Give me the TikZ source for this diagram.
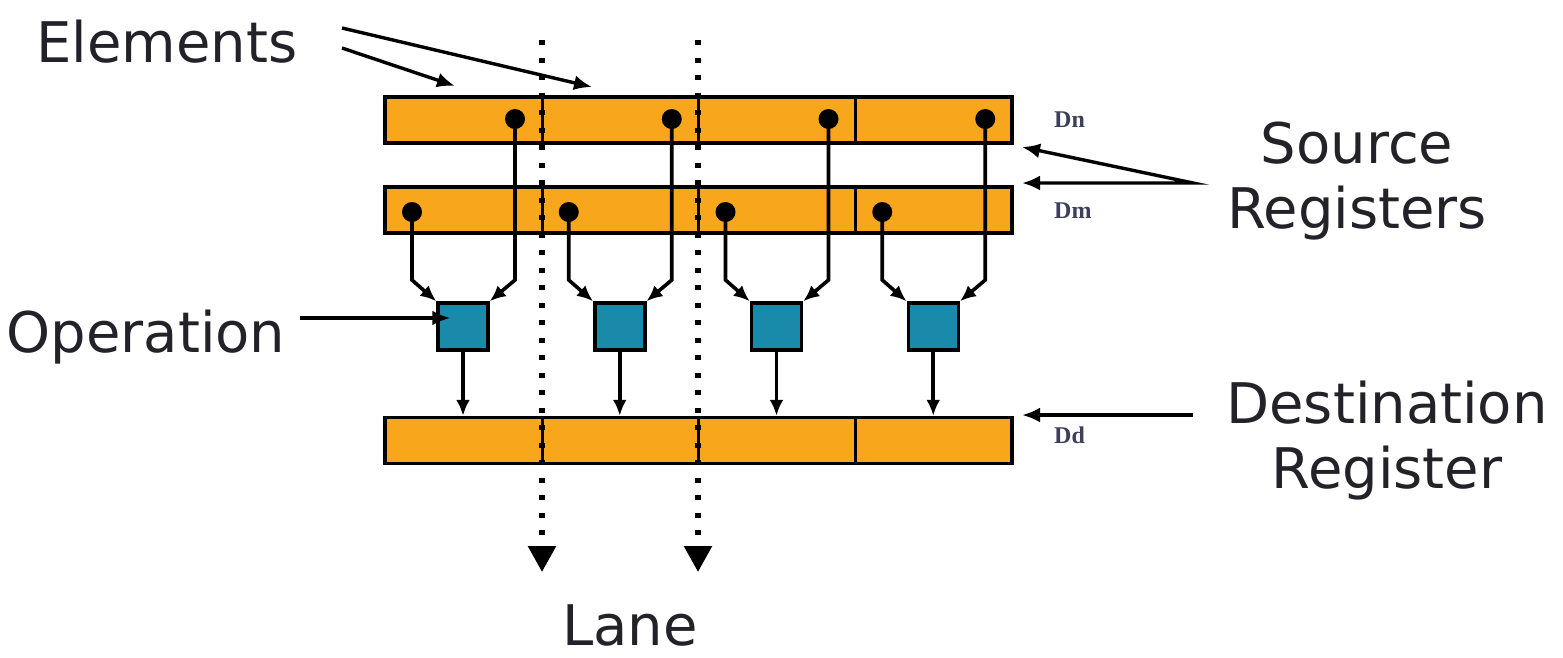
\documentclass[tikz,border=0pt]{standalone}
\usepackage{fontspec}
\setmainfont{DejaVu Sans}
\newfontfamily\regfont{Liberation Serif}
\usetikzlibrary{arrows.meta}
\definecolor{regorange}{RGB}{248,166,28}
\definecolor{opteal}{RGB}{26,138,170}
\definecolor{txt}{RGB}{34,34,40}
\definecolor{regtxt}{RGB}{60,64,90}
\begin{document}
\begin{tikzpicture}[x=1pt,y=-1pt,
  reg/.style={draw=black, fill=regorange, line width=3.5pt, minimum width=627pt, minimum height=46pt, inner sep=0pt},
  op/.style={draw=black, fill=opteal, line width=3.5pt, minimum width=50pt, minimum height=47pt, inner sep=0pt},
  dot/.style={circle, fill=black, minimum size=20pt, inner sep=0pt},
  conn/.style={line width=3.6pt, -{Latex[length=16pt,width=14pt]}},
  divider/.style={line width=3pt},
  lbl/.style={font=\fontsize{56}{65}\selectfont, text=txt, inner sep=0pt, align=center, anchor=base},
  rlbl/.style={font=\regfont\bfseries\fontsize{24}{27}\selectfont, text=regtxt, inner sep=0pt, anchor=base west},
  lane/.style={line width=5.5pt, dash pattern=on 5pt off 12.5pt, -{Triangle[length=26pt,width=27pt]}},
  pointer/.style={line width=3.4pt, -{Latex[length=18pt,width=15pt]}},
  pointertwo/.style={line width=3.4pt, {Latex[length=18pt,width=15pt]}-{Latex[length=18pt,width=15pt]}}
]
\useasboundingbox (0,0) rectangle (1563,657);

% registers
\node[reg] (Dn) at (698.5,120) {};
\node[reg] (Dm) at (698.5,210) {};
\node[reg] (Dd) at (698.5,440.5) {};
\foreach \r in {Dn,Dm,Dd}{
  \foreach \xx in {542,698,855}{
    \draw[divider] (\xx,0 |- \r.north) -- (\xx,0 |- \r.south);
  }
}

% register labels
\node[rlbl] (lDn) at (1054,127) {Dn};
\node[rlbl] (lDm) at (1054,218) {Dm};
\node[rlbl] (lDd) at (1054,443) {Dd};

% lanes: dots, operations, connectors
\foreach \i in {0,1,2,3}{
  \pgfmathsetmacro{\s}{385+156.75*\i}
  \node[dot] (m\i) at (\s+27,212) {};
  \node[dot] (n\i) at (\s+130,119) {};
  \node[op] (op\i) at (\s+78,326.5) {};
  \coordinate (bm\i) at (\s+27,280);
  \coordinate (bn\i) at (\s+130,280);
  \draw[conn] (m\i.center) -- (bm\i) -- (op\i.north west);
  \draw[conn] (n\i.center) -- (bn\i) -- (op\i.north east);
  \draw[conn] (op\i.south) -- (op\i.south |- Dd.north);
}

% lane markers
\coordinate (laneAtop) at (542,40);
\coordinate (laneAend) at (542,572);
\coordinate (laneBtop) at (698,40);
\coordinate (laneBend) at (698,572);
\draw[lane] (laneAtop) -- (laneAend);
\draw[lane] (laneBtop) -- (laneBend);
\node[lbl] (lane) at (630,645) {Lane};

% Elements
\node[lbl] (elements) at (167,62) {Elements};
\coordinate (eA) at (342,28);
\coordinate (eB) at (342,48);
\coordinate (eAt) at (592,87);
\coordinate (eBt) at (455,86);
\draw[pointer] (eA) -- (eAt);
\draw[pointer] (eB) -- (eBt);

% Operation
\node[lbl] (operation) at (146,352) {Operation};
\coordinate (oS) at (300,318);
\draw[pointer] (oS) -- (op0.west |- oS) -- ++(14,0);

% Source registers
\node[lbl] (source) at (1357,228) {Source\\Registers};
\coordinate (sApex) at (1193,183);
\coordinate (sA) at (1022,147);
\coordinate (sB) at (1022,183);
\draw[pointertwo] (sA) -- (sApex) -- (sB);

% Destination register
\node[lbl] (dest) at (1387,488) {Destination\\Register};
\coordinate (dS) at (1193,415);
\coordinate (dT) at (1022,415);
\draw[pointer] (dS) -- (dT);
\end{tikzpicture}
\end{document}
